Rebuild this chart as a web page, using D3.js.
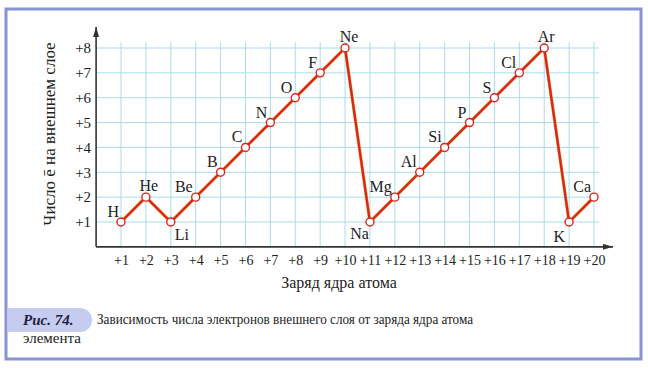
<!DOCTYPE html>
<html lang="ru">
<head>
<meta charset="utf-8">
<title>Рис. 74</title>
<script src="https://d3js.org/d3.v7.min.js"></script>
<style>
	body { margin: 0; background: #fff; }
	svg { display: block; }
</style>
</head>
<body>
<script>
	// data
	var symbols = ["H", "He", "Li", "Be", "B", "C", "N", "O", "F", "Ne",
		"Na", "Mg", "Al", "Si", "P", "S", "Cl", "Ar", "K", "Ca"];
	var charges = [1, 2, 3, 4, 5, 6, 7, 8, 9, 10, 11, 12, 13, 14, 15, 16, 17, 18, 19, 20];
	var outerElectrons = [1, 2, 1, 2, 3, 4, 5, 6, 7, 8, 1, 2, 3, 4, 5, 6, 7, 8, 1, 2];
	var yTicks = [1, 2, 3, 4, 5, 6, 7, 8];

	var w = 648, h = 368;
	var serif = "'Liberation Serif', 'DejaVu Serif', serif";

	var svg = d3.select("body").append("svg")
		.attr("width", w)
		.attr("height", h);

	// frame
	svg.append("rect")
		.attr("x", 6).attr("y", 9)
		.attr("width", 635).attr("height", 350)
		.attr("fill", "#fff")
		.attr("stroke", "#8793d6")
		.attr("stroke-width", 3);

	var x = d3.scaleLinear().domain([1, 20]).range([121, 594]);
	var y = d3.scaleLinear().domain([1, 8]).range([222, 48]);
	var x0 = x(0), y0 = y(0);

	// grid
	var grid = svg.append("g")
		.attr("stroke", "#a9dce9")
		.attr("stroke-width", 1);
	grid.selectAll("line.v")
		.data(charges)
		.enter().append("line")
		.attr("x1", function(d){ return x(d); })
		.attr("x2", function(d){ return x(d); })
		.attr("y1", y0)
		.attr("y2", 42);
	grid.selectAll("line.h")
		.data(yTicks)
		.enter().append("line")
		.attr("x1", x0)
		.attr("x2", 599)
		.attr("y1", function(d){ return y(d); })
		.attr("y2", function(d){ return y(d); });

	// axes with arrows
	var defs = svg.append("defs");
	defs.append("marker")
		.attr("id", "arrow")
		.attr("viewBox", "0 0 10 6")
		.attr("refX", 10).attr("refY", 3)
		.attr("markerWidth", 10).attr("markerHeight", 6)
		.attr("markerUnits", "userSpaceOnUse")
		.attr("orient", "auto")
		.append("path")
		.attr("d", "M0,0 L10,3 L0,6 Z")
		.attr("fill", "#333");

	svg.append("line")
		.attr("x1", x0).attr("y1", y0)
		.attr("x2", 613).attr("y2", y0)
		.attr("stroke", "#333").attr("stroke-width", 1.6)
		.attr("marker-end", "url(#arrow)");
	svg.append("line")
		.attr("x1", x0).attr("y1", y0)
		.attr("x2", x0).attr("y2", 27)
		.attr("stroke", "#333").attr("stroke-width", 1.6)
		.attr("marker-end", "url(#arrow)");

	var xAxis = d3.axisBottom(x)
		.tickValues(charges)
		.tickSize(0)
		.tickPadding(8)
		.tickFormat(function(d){ return "+" + d; });
	var gx = svg.append("g")
		.attr("transform", "translate(0," + y0 + ")")
		.call(xAxis);
	gx.select(".domain").remove();
	gx.selectAll("text")
		.attr("font-family", serif)
		.attr("font-size", 14)
		.attr("fill", "#222");

	var yAxis = d3.axisLeft(y)
		.tickValues(yTicks)
		.tickSize(0)
		.tickPadding(5)
		.tickFormat(function(d){ return "+" + d; });
	var gy = svg.append("g")
		.attr("transform", "translate(" + x0 + ",0)")
		.call(yAxis);
	gy.select(".domain").remove();
	gy.selectAll("text")
		.attr("font-family", serif)
		.attr("font-size", 15)
		.attr("fill", "#222");

	// axis titles
	svg.append("text")
		.attr("text-anchor", "middle")
		.attr("transform", "translate(339,288)")
		.attr("font-family", serif)
		.attr("font-size", 16)
		.attr("fill", "#222")
		.text("Заряд ядра атома");

	svg.append("text")
		.attr("text-anchor", "middle")
		.attr("transform", "translate(55,134) rotate(-90)")
		.attr("font-family", serif)
		.attr("font-size", 17)
		.attr("fill", "#222")
		.text("Число ē на внешнем слое");

	// the curve
	var pts = charges.map(function(c, i){
		return { sym: symbols[i], z: c, n: outerElectrons[i] };
	});
	var line = d3.line()
		.x(function(d){ return x(d.z); })
		.y(function(d){ return y(d.n); });

	svg.append("path")
		.datum(pts)
		.attr("d", line)
		.attr("fill", "none")
		.attr("stroke", "#f0a848")
		.attr("stroke-width", 3.2)
		.attr("stroke-linejoin", "round");
	svg.append("path")
		.datum(pts)
		.attr("d", line)
		.attr("fill", "none")
		.attr("stroke", "#d8261d")
		.attr("stroke-width", 2.3)
		.attr("stroke-linejoin", "round");

	svg.selectAll("circle.pt")
		.data(pts)
		.enter().append("circle")
		.attr("class", "pt")
		.attr("cx", function(d){ return x(d.z); })
		.attr("cy", function(d){ return y(d.n); })
		.attr("r", 4)
		.attr("fill", "#fff")
		.attr("stroke", "#d8261d")
		.attr("stroke-width", 1.4);

	// element labels: above-left by default
	var place = {
		He: [3, -6, "middle"], Ne: [4, -6, "middle"], Ar: [2, -6, "middle"],
		Li: [4, 18, "start"], Na: [-1, 17, "end"], K: [-4, 20, "end"],
		H: [-2, -5, "end"]
	};
	svg.selectAll("text.sym")
		.data(pts)
		.enter().append("text")
		.attr("class", "sym")
		.attr("x", function(d){ return x(d.z) + (place[d.sym] ? place[d.sym][0] : -3); })
		.attr("y", function(d){ return y(d.n) + (place[d.sym] ? place[d.sym][1] : -5); })
		.attr("text-anchor", function(d){ return place[d.sym] ? place[d.sym][2] : "end"; })
		.attr("font-family", serif)
		.attr("font-size", 16)
		.attr("fill", "#222")
		.text(function(d){ return d.sym; });

	// caption
	svg.append("path")
		.attr("d", "M8,308 H80 A12,12 0 0 1 92,320 A12,12 0 0 1 80,332 H8 Z")
		.attr("fill", "#c6ccef");
	svg.append("text")
		.attr("x", 23).attr("y", 325)
		.attr("font-family", serif)
		.attr("font-size", 15)
		.attr("font-weight", "bold")
		.attr("font-style", "italic")
		.attr("fill", "#1d2340")
		.text("Рис. 74.");
	svg.append("text")
		.attr("x", 97).attr("y", 324)
		.attr("font-family", serif)
		.attr("font-size", 15)
		.attr("textLength", 376)
		.attr("lengthAdjust", "spacingAndGlyphs")
		.attr("fill", "#222")
		.text("Зависимость числа электронов внешнего слоя от заряда ядра атома");
	svg.append("text")
		.attr("x", 23).attr("y", 343)
		.attr("font-family", serif)
		.attr("font-size", 15)
		.attr("fill", "#222")
		.text("элемента");
</script>
</body>
</html>
